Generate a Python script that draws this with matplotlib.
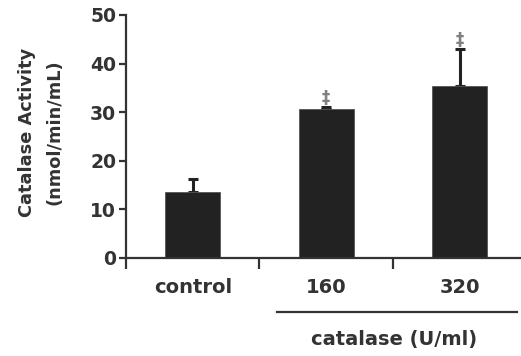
import matplotlib
matplotlib.use('Agg')
import matplotlib.pyplot as plt

# Data
groups = ['control', '160', '320']
activity = [13.6, 30.7, 35.4]
err_up = [2.6, 0.4, 7.6]
signif = ['', '\u2021', '\u2021']

plt.rcParams['font.family'] = ['DejaVu Sans']
plt.rcParams['font.weight'] = 'bold'
txt = '#333333'

fig = plt.figure(figsize=(5.21, 3.56), dpi=100)
ax = fig.add_axes([0.2418, 0.2753, 0.7582, 0.6826])

x = list(range(len(groups)))
ax.bar(x, activity, width=0.41, color='#222222', edgecolor='#555555', linewidth=0.6, zorder=2)
ax.errorbar(x, activity, yerr=[[0] * len(x), err_up], fmt='none', ecolor='#222222',
            elinewidth=2.2, capsize=3.5, capthick=2.2, zorder=1)
for xi, y, e, s in zip(x, activity, err_up, signif):
    if s:
        ax.text(xi, y + e, s, ha='center', va='bottom', fontsize=12,
                color='#808080')

ax.set_xlim(-0.5, 2.46)
ax.set_ylim(0, 50)
ax.set_yticks([0, 10, 20, 30, 40, 50])
ax.set_xticks([-0.5, 0.5, 1.5])
ax.set_xticklabels([])
ax.spines['top'].set_visible(False)
ax.spines['right'].set_visible(False)
for sp in ['left', 'bottom']:
    ax.spines[sp].set_linewidth(1.6)
    ax.spines[sp].set_color('#333333')
ax.tick_params(axis='y', length=5, width=1.6, color='#333333', labelsize=13.5,
               labelcolor=txt, pad=2)
ax.tick_params(axis='x', length=8, width=1.6, color='#333333')
for lab in ax.get_yticklabels():
    lab.set_fontweight('bold')

# category labels below axis
for xi, g in zip(x, groups):
    ax.text(xi, -0.123, g, transform=ax.get_xaxis_transform(), ha='center', va='center',
            fontsize=14, color=txt, fontweight='bold')

ax.plot([0.631, 2.43], [-0.222, -0.222], transform=ax.get_xaxis_transform(),
        color='#333333', lw=1.6, clip_on=False)
ax.text(1.51, -0.337, 'catalase (U/ml)', transform=ax.get_xaxis_transform(),
        ha='center', va='center', fontsize=14, color=txt, fontweight='bold')

fig.text(0.052, 0.629, 'Catalase Activity', rotation=90, ha='center', va='center',
         fontsize=12.8, color=txt, fontweight='bold')
fig.text(0.105, 0.629, '(nmol/min/mL)', rotation=90, ha='center', va='center',
         fontsize=12.8, color=txt, fontweight='bold')

fig.savefig('out.png', dpi=100)
